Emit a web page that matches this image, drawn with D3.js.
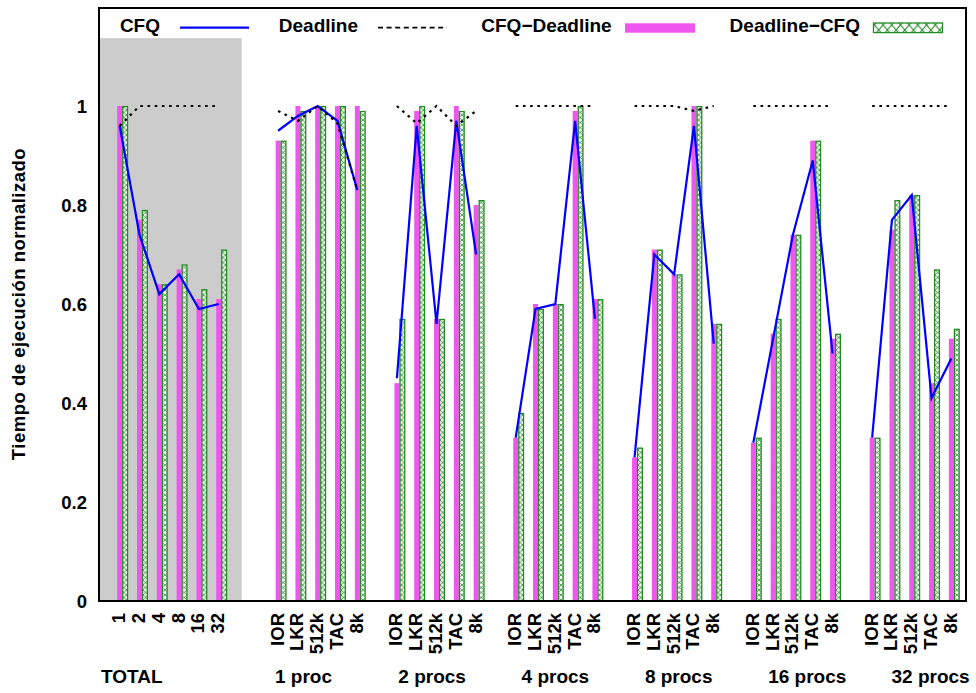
<!DOCTYPE html>
<html>
<head>
<meta charset="utf-8">
<script src="https://cdn.jsdelivr.net/npm/d3@7"></script>
<style>
  html, body { margin: 0; padding: 0; background: #fff; }
  svg text { font-family: "Liberation Sans", Arial, Helvetica, sans-serif; font-weight: bold; fill: #000; }
</style>
</head>
<body>
<svg id="chart" width="976" height="693"></svg>
<script>
// Normalised execution time of CFQ and Deadline I/O schedulers, grouped by process count.

const groupNames = ["TOTAL", "1 proc", "2 procs", "4 procs", "8 procs", "16 procs", "32 procs"];
const totalCategories = ["1", "2", "4", "8", "16", "32"];
const benchCategories = ["IOR", "LKR", "512k", "TAC", "8k"];

// Bars: CFQ-Deadline (magenta) and Deadline-CFQ (green hatched), one row per group
const cfqDeadline = [
  [1.00, 0.77, 0.64, 0.67, 0.61, 0.61],
  [0.93, 1.00, 1.00, 1.00, 1.00],
  [0.44, 0.99, 0.57, 1.00, 0.80],
  [0.33, 0.60, 0.60, 0.99, 0.61],
  [0.29, 0.71, 0.66, 1.00, 0.56],
  [0.32, 0.54, 0.74, 0.93, 0.53],
  [0.33, 0.75, 0.82, 0.44, 0.53]
];
const deadlineCfq = [
  [1.00, 0.79, 0.64, 0.68, 0.63, 0.71],
  [0.93, 0.99, 1.00, 1.00, 0.99],
  [0.57, 1.00, 0.57, 0.99, 0.81],
  [0.38, 0.59, 0.60, 1.00, 0.61],
  [0.31, 0.71, 0.66, 1.00, 0.56],
  [0.33, 0.57, 0.74, 0.93, 0.54],
  [0.33, 0.81, 0.82, 0.67, 0.55]
];

// Lines: CFQ (solid blue) and Deadline (dashed black)
const cfq = [
  [0.96, 0.74, 0.62, 0.66, 0.59, 0.60],
  [0.95, 0.98, 1.00, 0.97, 0.83],
  [0.45, 0.96, 0.56, 0.97, 0.70],
  [0.33, 0.59, 0.60, 0.97, 0.57],
  [0.29, 0.70, 0.66, 0.96, 0.52],
  [0.32, 0.53, 0.74, 0.89, 0.50],
  [0.33, 0.77, 0.82, 0.41, 0.49]
];
const deadline = [
  [0.96, 1.00, 1.00, 1.00, 1.00, 1.00],
  [0.99, 0.97, 1.00, 0.965, 0.83],
  [1.00, 0.965, 1.00, 0.96, 0.99],
  [1.00, 1.00, 1.00, 1.00, 1.00],
  [1.00, 1.00, 1.00, 0.99, 1.00],
  [1.00, 1.00, 1.00, 1.00, 1.00],
  [1.00, 1.00, 1.00, 1.00, 1.00]
];

const yTicks = [0, 0.2, 0.4, 0.6, 0.8, 1];
const legendLabels = ["CFQ", "Deadline", "CFQ\u2212Deadline", "Deadline\u2212CFQ"];

// ---- layout ----
const plot = { left: 99, right: 966, top: 7, bottom: 601 };
const colors = { pink: "#ef55ef", green: "#228b22", blue: "#0000ff", shade: "#cccccc" };

const svg = d3.select("#chart");

// Slot index of every category: TOTAL first, then a wider gap, then one-slot gaps.
const groups = groupNames.map((name, g) => ({
  name,
  cats: g === 0 ? totalCategories : benchCategories,
  pink: cfqDeadline[g], green: deadlineCfq[g], cfq: cfq[g], deadline: deadline[g]
}));
let slot = 0;
groups.forEach((grp, g) => {
  if (g === 1) slot += 2;
  else if (g > 1) slot += 1;
  grp.start = slot;
  slot += grp.cats.length;
});

const x = d3.scaleLinear().domain([-1.045, 42.74]).range([plot.left, plot.right]);
const y = d3.scaleLinear().domain([0, 1.2]).range([plot.bottom, plot.top]);
const bw = x(0.25) - x(0);

// patterns for the hatched bars
const defs = svg.append("defs");
function hatch(id, w, h, sw) {
  const p = defs.append("pattern").attr("id", id).attr("patternUnits", "userSpaceOnUse")
    .attr("width", w).attr("height", h);
  p.append("rect").attr("width", w).attr("height", h).attr("fill", "#fff");
  p.append("path").attr("d", `M0,0L${w},${h}M${w},0L0,${h}`)
    .attr("stroke", colors.green).attr("stroke-width", sw).attr("fill", "none");
}
hatch("hatchBar", 5.5, 5, 0.8);
hatch("hatchKey", 8.7, 10, 1.1);

// shaded TOTAL region
svg.append("rect")
  .attr("x", plot.left).attr("y", y(1.137))
  .attr("width", x(6.16) - plot.left).attr("height", plot.bottom - y(1.137))
  .attr("fill", colors.shade);

// bars
groups.forEach(grp => {
  const gsel = svg.append("g");
  gsel.selectAll("rect.pink").data(grp.pink).join("rect")
    .attr("class", "pink")
    .attr("x", (d, i) => x(grp.start + i) - bw / 2)
    .attr("y", d => y(d)).attr("width", bw).attr("height", d => y(0) - y(d))
    .attr("fill", colors.pink);
  gsel.selectAll("rect.green").data(grp.green).join("rect")
    .attr("class", "green")
    .attr("x", (d, i) => x(grp.start + i) + bw / 2 + 0.6)
    .attr("y", d => y(d) + 0.6).attr("width", bw - 0.2).attr("height", d => y(0) - y(d) - 0.6)
    .attr("fill", "url(#hatchBar)").attr("stroke", colors.green).attr("stroke-width", 1.3);
});

// lines
const line = d3.line().x(d => x(d.i)).y(d => y(d.v));
groups.forEach(grp => {
  const pts = key => grp[key].map((v, i) => ({ i: grp.start + i, v }));
  svg.append("path").datum(pts("cfq")).attr("d", line)
    .attr("fill", "none").attr("stroke", colors.blue).attr("stroke-width", 2.2)
    .attr("stroke-linejoin", "miter");
  svg.append("path").datum(pts("deadline")).attr("d", line)
    .attr("fill", "none").attr("stroke", "#000").attr("stroke-width", 2.2)
    .attr("stroke-dasharray", "2.6 4.6");
});

// frame
svg.append("rect")
  .attr("x", plot.left).attr("y", plot.top + 1)
  .attr("width", plot.right - plot.left).attr("height", plot.bottom - plot.top - 1)
  .attr("fill", "none").attr("stroke", "#000").attr("stroke-width", 2);

// y axis labels
svg.append("g").selectAll("text").data(yTicks).join("text")
  .attr("x", 87).attr("y", d => y(d)).attr("dy", "0.36em")
  .attr("text-anchor", "end").style("font-size", "18.5px")
  .text(d => d3.format("~g")(d));

svg.append("text")
  .attr("transform", `translate(25,${(plot.top + plot.bottom) / 2}) rotate(-90)`)
  .attr("text-anchor", "middle").style("font-size", "18.5px").style("letter-spacing", "0.5px")
  .text("Tiempo de ejecuci\u00f3n normalizado");

// category labels, rotated
groups.forEach(grp => {
  svg.append("g").selectAll("text").data(grp.cats).join("text")
    .attr("transform", (d, i) => `translate(${x(grp.start + i) + 5.5},613) rotate(-90)`)
    .attr("text-anchor", "end").style("font-size", "18.5px")
    .text(d => d);
});

// group labels along the bottom
svg.append("g").selectAll("text").data(groups).join("text")
  .attr("x", (d, g) => g === 0 ? plot.left + 2 : 275 + (g - 1) * 123.3)
  .attr("y", 683)
  .style("font-size", "19px")
  .text(d => d.name);

// legend
const key = svg.append("g");
const keyText = [160, 358, 611.7, 860];
const keySample = [180, 378, 625, 873.5];
const keyW = 69;
legendLabels.forEach((label, k) => {
  key.append("text").attr("x", keyText[k]).attr("y", 31.8)
    .attr("text-anchor", "end").style("font-size", "19px").text(label);
});
key.append("line").attr("x1", keySample[0]).attr("x2", keySample[0] + keyW)
  .attr("y1", 27.6).attr("y2", 27.6).attr("stroke", colors.blue).attr("stroke-width", 2.2);
key.append("line").attr("x1", keySample[1]).attr("x2", keySample[1] + keyW)
  .attr("y1", 27.6).attr("y2", 27.6).attr("stroke", "#000").attr("stroke-width", 1.6)
  .attr("stroke-dasharray", "5 3.6");
key.append("rect").attr("x", keySample[2]).attr("y", 23.3).attr("width", 70).attr("height", 9.4)
  .attr("fill", colors.pink);
key.append("rect").attr("x", keySample[3]).attr("y", 23).attr("width", 69).attr("height", 9.6)
  .attr("fill", "url(#hatchKey)").attr("stroke", colors.green).attr("stroke-width", 1.3);
</script>
</body>
</html>
